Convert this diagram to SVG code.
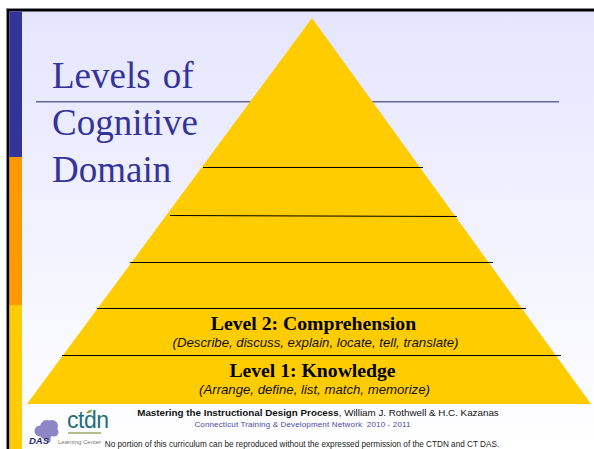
<svg xmlns="http://www.w3.org/2000/svg" width="594" height="449" viewBox="0 0 594 449">
<defs>
<linearGradient id="bg" x1="0" y1="0" x2="0" y2="1"><stop offset="0" stop-color="#e5e5ff"/><stop offset="1" stop-color="#ffffff"/></linearGradient>
</defs>
<style>
.title{font-family:"Liberation Serif",serif;font-size:37px;fill:#333399}
.rule{stroke:#000;stroke-width:1;fill:none}
.head{font-family:"Liberation Serif",serif;font-size:19.700px;font-weight:bold;fill:#000;text-anchor:middle}
.sub{font-family:"Liberation Sans",sans-serif;font-size:13.200px;font-style:italic;fill:#111;text-anchor:middle}
.foot{font-family:"Liberation Sans",sans-serif;text-anchor:middle}
</style>
<rect width="594" height="449" fill="#fff"/>
<g id="frame">
<rect x="9" y="11" width="585" height="438" fill="url(#bg)"/>
<rect x="6" y="8" width="588" height="1" fill="#8a8a96"/>
<rect x="7" y="9" width="587" height="2.500" fill="#000"/>
<rect x="6" y="8" width="1" height="441" fill="#8a8a96"/>
<rect x="7" y="9" width="2.500" height="440" fill="#000"/>
<rect x="9.500" y="11.500" width="12.500" height="145.500" fill="#333399"/>
<rect x="9.500" y="157" width="12.500" height="148" fill="#ff9900"/>
<rect x="9.500" y="305" width="12.500" height="144" fill="#ffcc00"/>
<rect x="36" y="101" width="523" height="1.500" fill="#666699"/>
</g>
<g id="title">
<text class="title" x="52" y="88" word-spacing="3">Levels of</text>
<text class="title" x="52" y="135">Cognitive</text>
<text class="title" x="52" y="182">Domain</text>
</g>
<g id="pyramid">
<polygon points="312,18 591,404 27,404" fill="#ffcc00"/>
</g>
<g id="connectors">
<line class="rule" x1="203" y1="167.500" x2="423" y2="167.500"/>
<line class="rule" x1="170" y1="215.500" x2="457" y2="216.500"/>
<line class="rule" x1="130" y1="262.500" x2="493" y2="262.500"/>
<line class="rule" x1="97" y1="308.500" x2="526" y2="308.500"/>
<line class="rule" x1="62" y1="355.500" x2="561" y2="355.500"/>
</g>
<g id="level2">
<text class="head" x="313.500" y="330">Level 2: Comprehension</text>
<text class="sub" x="315.500" y="347">(Describe, discuss, explain, locate, tell, translate)</text>
</g>
<g id="level1">
<text class="head" x="312.500" y="377">Level 1: Knowledge</text>
<text class="sub" x="314.500" y="394">(Arrange, define, list, match, memorize)</text>
</g>
<g id="logo">
<g fill="#8d86c4">
<circle cx="47" cy="427" r="7"/><circle cx="52" cy="426" r="6"/><circle cx="40" cy="431" r="5.500"/><circle cx="46" cy="433" r="6.500"/><circle cx="54" cy="432" r="4.500"/>
<rect x="47" y="433" width="3.500" height="9"/>
</g>
<text x="67" y="428" font-family="'Liberation Sans',sans-serif" font-size="23" letter-spacing="-0.500" fill="#1f6f7a">ctdn</text>
<path d="M86 413q3-4 6-3q-1 4-6 3z" fill="#8aa63c"/>
<rect x="68" y="432" width="33" height="2" fill="#b5bb8a"/>
<text x="29" y="443.500" font-family="'Liberation Sans',sans-serif" font-size="9.500" font-weight="bold" font-style="italic" fill="#1c2a7a">DAS</text>
<text x="58" y="443.500" font-family="'Liberation Sans',sans-serif" font-size="6" fill="#777">Learning Center</text>
</g>
<g id="footer">
<text class="foot" x="318" y="416" font-size="9.800" fill="#111"><tspan font-weight="bold">Mastering the Instructional Design Process</tspan>, William J. Rothwell &amp; H.C. Kazanas</text>
<text class="foot" x="302.500" y="427" font-size="8" letter-spacing="0.150" fill="#4a4aa8" xml:space="preserve">Connecticut Training &amp; Development Network  2010 - 2011</text>
<text class="foot" x="302" y="447" font-size="8.200" fill="#222">No portion of this curriculum can be reproduced without the expressed permission of the CTDN and CT DAS.</text>
</g>
</svg>
